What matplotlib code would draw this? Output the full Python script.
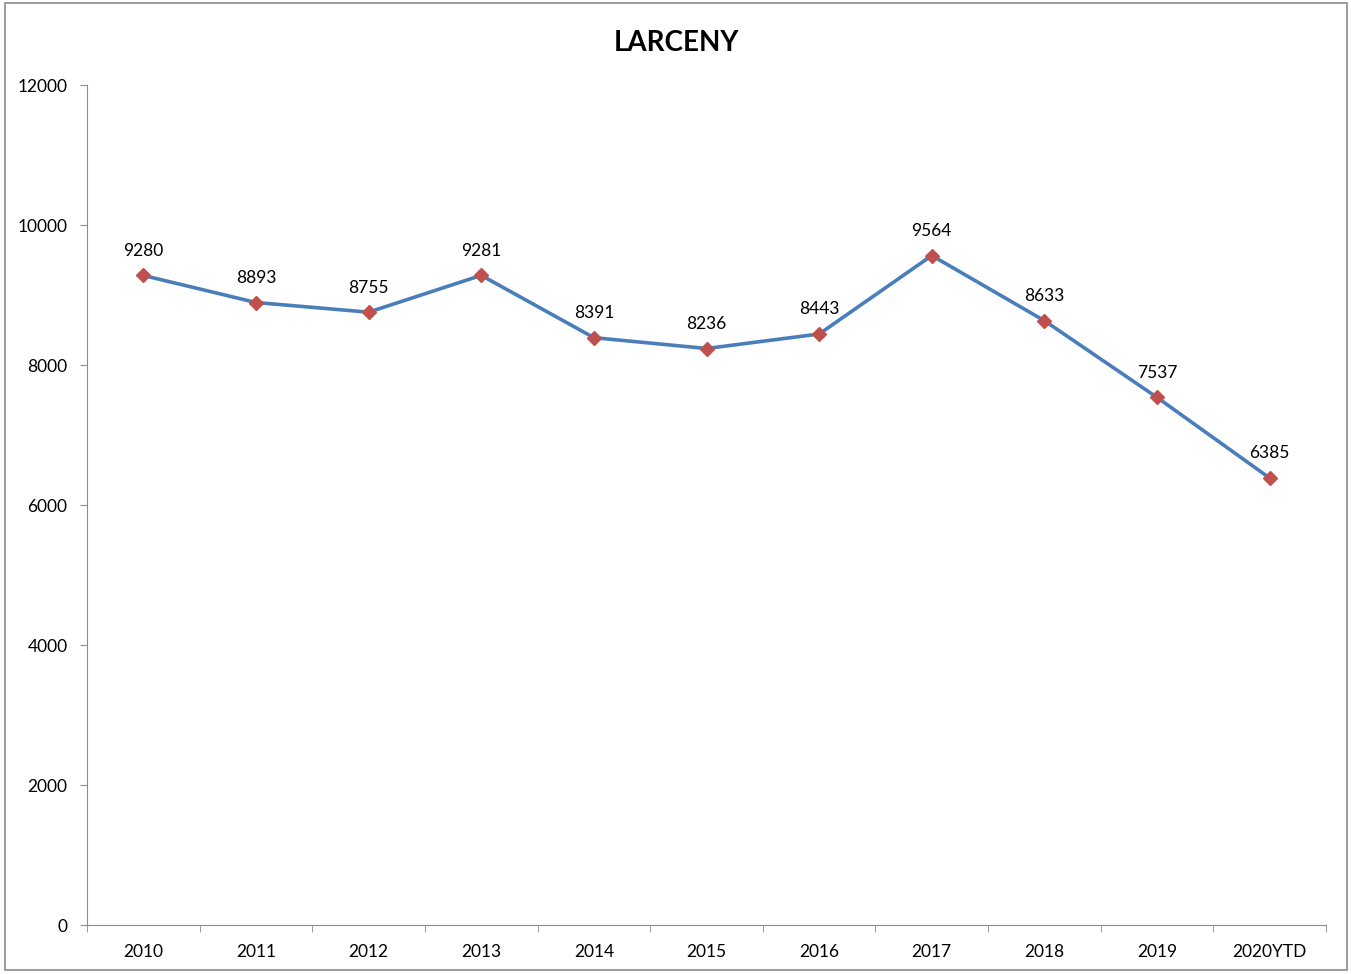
import matplotlib.pyplot as plt
from matplotlib.patches import Rectangle

years = ["2010", "2011", "2012", "2013", "2014", "2015", "2016", "2017", "2018", "2019", "2020YTD"]
counts = [9280, 8893, 8755, 9281, 8391, 8236, 8443, 9564, 8633, 7537, 6385]

plt.rcParams["font.family"] = ["Lato", "DejaVu Sans"]

fig = plt.figure(figsize=(13.51, 9.74), dpi=100)
ax = fig.add_axes([0.0644, 0.0503, 0.9171, 0.8624])

# rahmen grau um die ganze grafik
fig.patches.append(Rectangle((0.004, 0.004), 0.993, 0.993, transform=fig.transFigure,
                             fill=False, edgecolor="#8c8c8c", linewidth=1.2))

x = list(range(len(years)))
ax.plot(x, counts, color="#4a7ebb", linewidth=2.6, marker="D", markersize=7,
        markerfacecolor="#c0504d", markeredgecolor="#c0504d", zorder=3)

for xi, v in zip(x, counts):
    ax.annotate(str(v), (xi, v), xytext=(0, 12), textcoords="offset points",
                ha="center", va="bottom", fontsize=12.5)

ax.set_xlim(-0.5, len(years) - 0.5)
ax.set_ylim(0, 12000)
ax.set_yticks(range(0, 12001, 2000))
ax.set_xticks(x)
ax.set_xticklabels(years)
ax.set_xticks([i - 0.5 for i in range(len(years) + 1)], minor=True)
ax.tick_params(axis="x", which="major", length=0, labelsize=12.5, pad=14)
ax.tick_params(axis="x", which="minor", length=5, color="#8c8c8c")
ax.tick_params(axis="y", length=5, color="#8c8c8c", labelsize=12.5, pad=9)

for s in ["top", "right"]:
    ax.spines[s].set_visible(False)
for s in ["left", "bottom"]:
    ax.spines[s].set_color("#8c8c8c")

fig.text(0.501, 0.956, "LARCENY", ha="center", va="center", fontsize=20, fontweight="bold")

fig.savefig("out.png", dpi=100)
